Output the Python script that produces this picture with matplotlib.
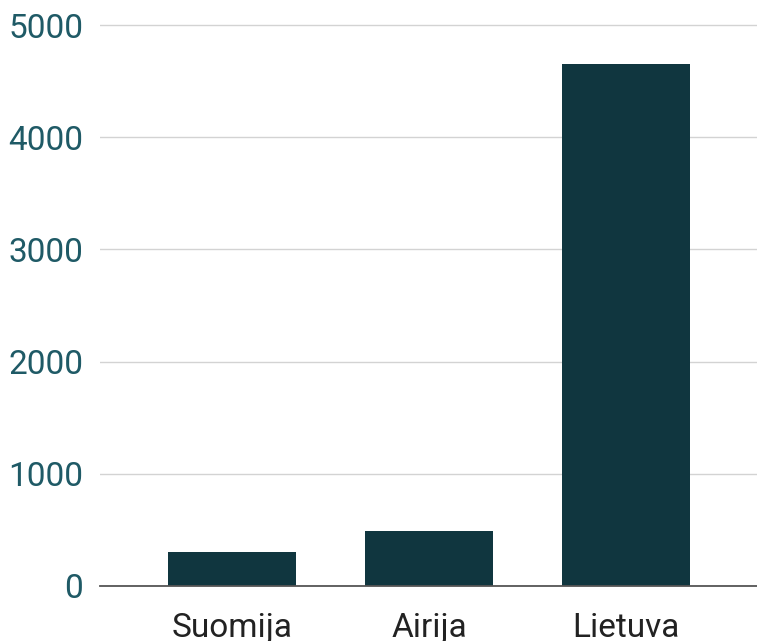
import matplotlib.pyplot as plt

countries = ["Suomija", "Airija", "Lietuva"]
values = [300, 490, 4650]
yticks = [0, 1000, 2000, 3000, 4000, 5000]

plt.rcParams['font.family'] = ['Roboto', 'DejaVu Sans']

fig = plt.figure(figsize=(7.57, 6.41), dpi=100)
ax = fig.add_axes([100 / 757, 55 / 641, 1 - 100 / 757, (586 - 20) / 641])

ax.bar(range(len(countries)), values, width=0.65, color="#10363f", zorder=3)

ax.set_xlim(-0.67, 2.665)
ax.set_ylim(0, 5000 * 566 / 561)
ax.set_yticks(yticks)
ax.set_yticklabels([str(t) for t in yticks], fontsize=24, color="#1f5a66")
ax.set_xticks(range(len(countries)))
ax.set_xticklabels(countries, fontsize=24, color="#222222")
ax.tick_params(axis="y", length=0, pad=12)
ax.tick_params(axis="x", length=0, pad=19)

ax.grid(axis="y", color="#d3d3d3", linewidth=1.0, zorder=0)
for side in ["top", "right", "left"]:
    ax.spines[side].set_visible(False)
ax.spines["bottom"].set_color("#555555")
ax.spines["bottom"].set_linewidth(1.3)
ax.spines["bottom"].set_zorder(4)

fig.savefig("out.png", dpi=100)
